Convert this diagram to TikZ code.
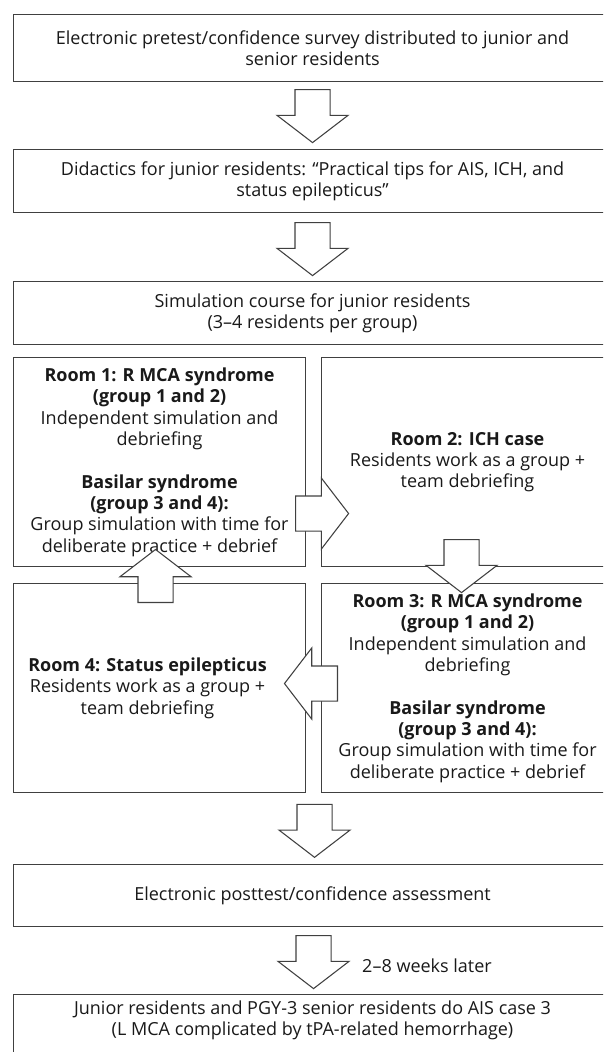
\documentclass[tikz,border=0pt]{standalone}
\usepackage{fontspec}
\setmainfont{Open Sans}
\usetikzlibrary{positioning, shapes.arrows}

\newcommand{\pxu}{0.75pt}

\begin{document}
\begin{tikzpicture}[
    x=0.75pt, y=-0.75pt,
    font=\fontsize{13.5}{16}\selectfont,
    box/.style={rectangle, draw=black!75, line width=0.8pt, anchor=north west,
                inner sep=0pt, align=center, text=black!90},
    wide/.style={box, minimum width=598*\pxu},
    room/.style={box, minimum width=292*\pxu, minimum height=209*\pxu},
    fatarrow/.style={single arrow, draw=black!75, fill=white, line width=0.8pt,
                inner sep=17*\pxu, minimum width=70*\pxu, minimum height=53*\pxu,
                single arrow head extend=18*\pxu, single arrow tip angle=105}
]
\useasboundingbox (0,0) rectangle (603,1052);
\clip (0,0) rectangle (603,1052);

% top part
\node[wide, minimum height=67*\pxu] (pretest) at (13,14)
    {Electronic pretest/confidence survey distributed to junior and\\senior residents};
\node[wide, minimum height=63*\pxu] (didactic) at (13,149)
    {Didactics for junior residents: “Practical tips for AIS, ICH, and\\status epilepticus”};
\node[wide, minimum height=63*\pxu] (course) at (13,281)
    {Simulation course for junior residents\\(3–4 residents per group)};

\node[fatarrow, shape border rotate=270, anchor=tail] (a1) at ([shift={(0,7)}]pretest.south) {};
\node[fatarrow, shape border rotate=270, anchor=tail] (a2) at ([shift={(0,9)}]didactic.south) {};

% rooms
\node[room] (room1) at (13,357)
    {\textbf{Room 1: R MCA syndrome}\\\textbf{(group 1 and 2)}\\Independent simulation and\\debriefing\\[16pt]
     \textbf{Basilar syndrome}\\\textbf{(group 3 and 4):}\\Group simulation with time for\\deliberate practice + debrief};
\node[room] (room2) at (321,357)
    {\textbf{Room 2: ICH case}\\Residents work as a group +\\team debriefing};
\node[room] (room3) at (321,583)
    {\textbf{Room 3: R MCA syndrome}\\\textbf{(group 1 and 2)}\\Independent simulation and\\debriefing\\[16pt]
     \textbf{Basilar syndrome}\\\textbf{(group 3 and 4):}\\Group simulation with time for\\deliberate practice + debrief};
\node[room] (room4) at (13,583) {};
\node[align=center, text=black!90, inner sep=0pt] (room4text) at ([shift={(-12,0)}]room4.center)
    {\textbf{Room 4: Status epilepticus}\\Residents work as a group +\\team debriefing};

\node[fatarrow, anchor=tail] (r12) at ([shift={(-11,51.5)}]room1.east) {};
\node[fatarrow, shape border rotate=270, anchor=tail] (r23) at ([shift={(-6,-28)}]room2.south) {};
\node[fatarrow, shape border rotate=180, anchor=tail] (r34) at ([shift={(17,-4.5)}]room3.west) {};
\node[fatarrow, shape border rotate=90, anchor=tail] (r41) at ([shift={(-4,20)}]room4.north) {};

% bottom part
\node[wide, minimum height=62*\pxu] (posttest) at (13,864)
    {Electronic posttest/confidence assessment};
\node[wide, inner ysep=6*\pxu] (case3) at (13,994)
    {Junior residents and PGY-3 senior residents do AIS case 3\\(L MCA complicated by tPA-related hemorrhage)\\[30pt]};

\node[fatarrow, shape border rotate=270, anchor=tip] (a3) at ([shift={(2,-6)}]posttest.north) {};
\node[fatarrow, shape border rotate=270, anchor=tail] (a4) at ([shift={(1,8)}]posttest.south) {};
\node[anchor=west, text=black!90] (later) at ([shift={(44,-24)}]a4.tip) {2–8 weeks later};

\end{tikzpicture}
\end{document}
